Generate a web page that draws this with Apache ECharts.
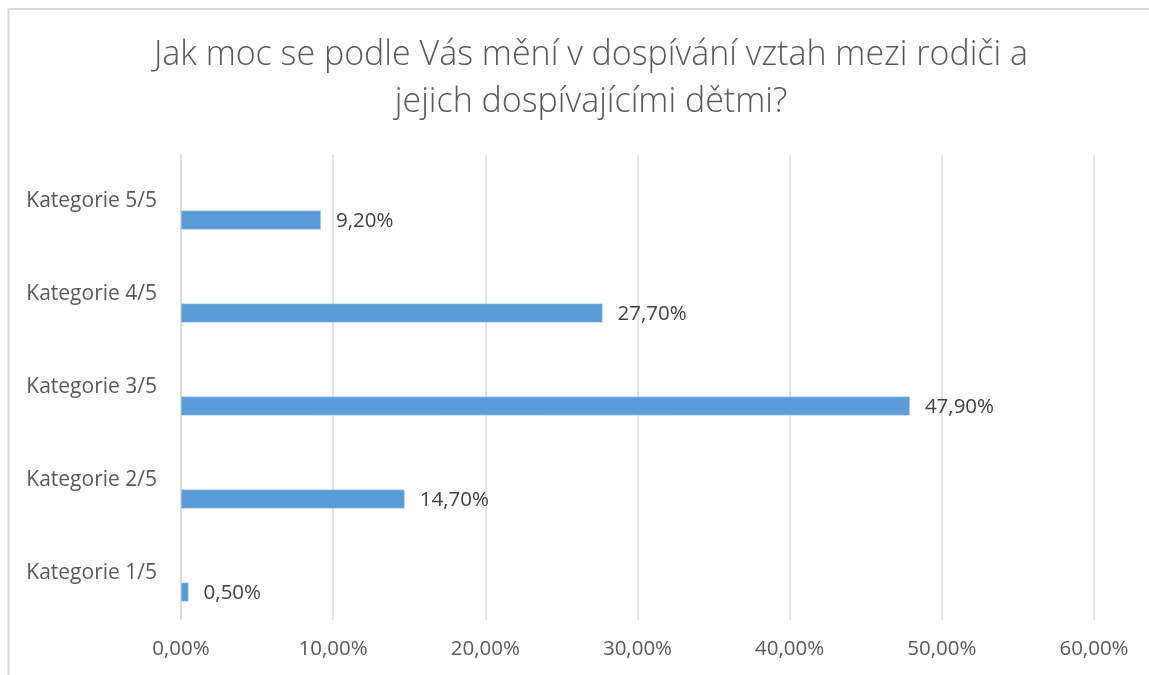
<!DOCTYPE html>
<html><head><meta charset="utf-8">
<script src="https://cdn.jsdelivr.net/npm/echarts@6/dist/echarts.min.js"></script>
<style>html,body{margin:0;padding:0;background:#fff}#c{width:1149px;height:675px}</style>
</head><body><div id="c"></div>
<script>
const titleText = 'Jak moc se podle Vás mění v dospívání vztah mezi rodiči a\njejich dospívajícími dětmi?';
const categories = ['Kategorie 1/5','Kategorie 2/5','Kategorie 3/5','Kategorie 4/5','Kategorie 5/5'];
const values = [0.5, 14.7, 47.9, 27.7, 9.2];
const emptyValues = [null, null, null, null, null];
const axisMin = 0, axisMax = 60, axisStep = 10;

const fmt = v => v.toFixed(2).replace('.', ',') + '%';
const FONT = '"Open Sans", sans-serif';

const chart = echarts.init(document.getElementById('c'), null, {renderer:'canvas'});
chart.setOption({
  animation:false,
  backgroundColor:'#fff',
  graphic:[{type:'rect', shape:{x:8.5,y:9,width:1160,height:700}, style:{fill:'none',stroke:'#d9d9d9',lineWidth:2}, silent:true, z:-1}],
  title:{text:titleText,left:586,textAlign:'center',top:27,textStyle:{fontFamily:FONT,fontSize:34,fontWeight:300,color:'#595959',lineHeight:47}},
  grid:{left:181,right:55,top:155,bottom:55,containLabel:false},
  xAxis:{type:'value',min:axisMin,max:axisMax,interval:axisStep,
    axisLine:{show:false},axisTick:{show:false},
    splitLine:{lineStyle:{color:'#d9d9d9',width:1.5}},
    axisLabel:{formatter:fmt,fontFamily:FONT,fontSize:20.5,color:'#595959',margin:19}},
  yAxis:{type:'category',data:categories,
    axisLine:{show:true,lineStyle:{color:'#d9d9d9',width:1.5}},axisTick:{show:false},
    axisLabel:{fontFamily:FONT,fontSize:21,color:'#595959',margin:24}},
  series:[
    {type:'bar',data:emptyValues,barWidth:19,barGap:'95%',silent:true},
    {type:'bar',data:values,barWidth:19,barGap:'95%',
    itemStyle:{color:'#5b9bd5',borderColor:'#c5dcf0',borderWidth:0.5},
    label:{show:true,position:'right',distance:15,formatter:p=>fmt(p.value),fontFamily:FONT,fontSize:20.5,color:'#404040',offset:[0,1]}}]
});
</script></body></html>
